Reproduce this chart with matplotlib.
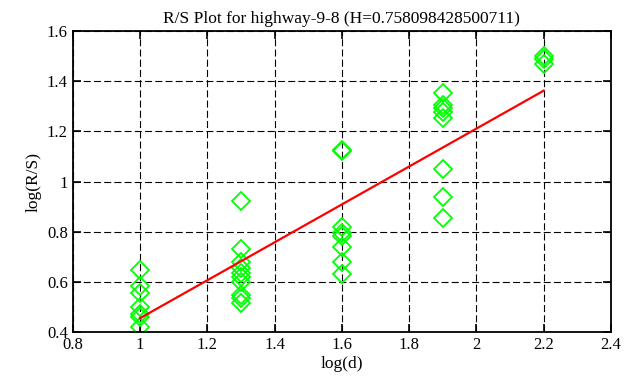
import matplotlib
matplotlib.use("Agg")
import matplotlib.pyplot as plt

# R/S points, one x value per block size (log d)
x_pts = [1.0] * 7 + [1.3] * 10 + [1.6] * 8 + [1.9] * 8 + [2.2] * 3
y_pts = [0.648, 0.585, 0.555, 0.50, 0.47, 0.46, 0.42,
         0.922, 0.731, 0.68, 0.655, 0.635, 0.619, 0.60, 0.548, 0.536, 0.516,
         1.126, 1.12, 0.82, 0.795, 0.783, 0.74, 0.678, 0.631,
         1.352, 1.305, 1.292, 1.278, 1.255, 1.049, 0.937, 0.853,
         1.502, 1.487, 1.469]

# fitted line (slope = H)
fit_x = [1.0, 2.2]
fit_y = [0.455, 1.362]

title = "R/S Plot for highway-9-8 (H=0.758098428500711)"
xticks = [0.8, 1, 1.2, 1.4, 1.6, 1.8, 2, 2.2, 2.4]
yticks = [0.4, 0.6, 0.8, 1, 1.2, 1.4, 1.6]

plt.rcParams['font.family'] = ['Liberation Serif', 'DejaVu Serif']

fig = plt.figure(figsize=(6.26, 3.87), dpi=100)
ax = fig.add_axes([0.116, 0.142, 0.86, 0.778])

ax.plot(x_pts, y_pts, linestyle='none', marker='D', markersize=9,
        markerfacecolor='none', markeredgecolor='#00ff00', markeredgewidth=1.3)
ax.plot(fit_x, fit_y, color='#ff0000', linewidth=1.6)

ax.set_xlim(0.8, 2.4)
ax.set_ylim(0.4, 1.6)
ax.set_xticks(xticks)
ax.set_yticks(yticks)
ax.set_xticklabels(['0.8', '1', '1.2', '1.4', '1.6', '1.8', '2', '2.2', '2.4'])
ax.set_yticklabels(['0.4', '0.6', '0.8', '1', '1.2', '1.4', '1.6'])
ax.tick_params(direction='in', top=True, right=True, length=6, width=1.2,
               labelsize=12, colors='black')
ax.grid(True, color='black', linestyle=(0, (6.3, 2.9)), linewidth=0.8)
for s in ax.spines.values():
    s.set_linewidth(1.3)

ax.set_title(title, fontsize=12.5, pad=6)
ax.set_xlabel('log(d)', fontsize=12.5, labelpad=2)
ax.set_ylabel('log(R/S)', fontsize=12.5, labelpad=4)

fig.savefig('out.png', dpi=100)
